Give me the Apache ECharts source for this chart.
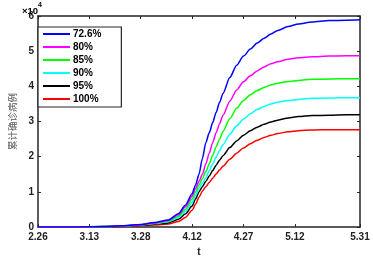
<!DOCTYPE html>
<html><head><meta charset="utf-8">
<script src="https://cdn.jsdelivr.net/npm/echarts@6/dist/echarts.min.js"></script>
<style>html,body{margin:0;padding:0;background:#fff}#c{width:373px;height:262px}</style>
</head><body><div id="c"></div>
<script>
const days = [0, 10, 20, 25, 30, 34, 38, 41, 43, 45, 46, 47, 48, 49, 50, 51, 52, 53, 54, 56, 58, 60, 62, 64, 66, 68, 70, 73, 76, 80, 85, 90, 94];
const seriesNames = ['72.6%', '80%', '85%', '90%', '95%', '100%'];
const s726 = [0, 0.005, 0.02, 0.04, 0.075, 0.13, 0.2, 0.38, 0.62, 0.95, 1.2, 1.5, 1.95, 2.4, 2.68, 2.97, 3.26, 3.54, 3.8, 4.25, 4.6, 4.86, 5.06, 5.23, 5.37, 5.49, 5.59, 5.70, 5.77, 5.83, 5.87, 5.88, 5.89];
const s80 = [0, 0.005, 0.02, 0.035, 0.07, 0.12, 0.19, 0.35, 0.57, 0.88, 1.1, 1.3, 1.5, 1.8, 2.1, 2.4, 2.68, 2.94, 3.18, 3.58, 3.9, 4.13, 4.3, 4.44, 4.55, 4.64, 4.7, 4.77, 4.81, 4.84, 4.86, 4.87, 4.87];
const s85 = [0, 0.004, 0.018, 0.033, 0.065, 0.11, 0.17, 0.31, 0.5, 0.8, 1.0, 1.2, 1.38, 1.58, 1.8, 2.04, 2.28, 2.5, 2.72, 3.08, 3.38, 3.6, 3.76, 3.88, 3.97, 4.04, 4.09, 4.14, 4.17, 4.2, 4.21, 4.22, 4.22];
const s90 = [0, 0.004, 0.016, 0.03, 0.06, 0.1, 0.15, 0.27, 0.44, 0.7, 0.9, 1.1, 1.25, 1.4, 1.6, 1.8, 1.99, 2.17, 2.34, 2.64, 2.88, 3.07, 3.22, 3.34, 3.43, 3.5, 3.55, 3.6, 3.63, 3.66, 3.67, 3.68, 3.68];
const s95 = [0, 0.003, 0.014, 0.025, 0.05, 0.08, 0.12, 0.22, 0.37, 0.6, 0.8, 1.0, 1.15, 1.3, 1.45, 1.61, 1.76, 1.9, 2.03, 2.26, 2.45, 2.61, 2.74, 2.84, 2.92, 2.99, 3.04, 3.1, 3.14, 3.17, 3.18, 3.19, 3.19];
const s100 = [0, 0.003, 0.01, 0.02, 0.04, 0.06, 0.09, 0.16, 0.27, 0.48, 0.65, 0.85, 1.02, 1.15, 1.27, 1.39, 1.51, 1.62, 1.73, 1.93, 2.1, 2.25, 2.37, 2.47, 2.55, 2.61, 2.66, 2.71, 2.74, 2.76, 2.77, 2.77, 2.77];
const xTickDays = [0, 15, 30, 45, 60, 75, 94];
const xTickLabels = ['2.26', '3.13', '3.28', '4.12', '4.27', '5.12', '5.31'];
const yTicks = [0, 1, 2, 3, 4, 5, 6];
const colors = ['#0000ff', '#ff00ff', '#00ff00', '#00ffff', '#000000', '#ff0000'];
const allVals = [s726, s80, s85, s90, s95, s100];

const axisColor = '#262626';
const lblFont = {fontFamily: 'Liberation Sans', fontSize: 10, fontWeight: 'bold', color: '#222'};
const chart = echarts.init(document.getElementById('c'), null, {renderer: 'canvas'});
const baseX = {
  type: 'value', min: 0, max: 94,
  axisLine: {show: true, onZero: false, lineStyle: {color: axisColor, width: 1.5}},
  splitLine: {show: false}
};
const baseY = {
  type: 'value', min: 0, max: 6, interval: 1,
  axisLine: {show: true, onZero: false, lineStyle: {color: axisColor, width: 1.5}},
  splitLine: {show: false}
};
chart.setOption({
  animation: false,
  grid: {left: 22, right: 13, top: 16, bottom: 31},
  legend: {
    left: 38, top: 27, orient: 'vertical',
    data: seriesNames,
    icon: 'rect', itemWidth: 27, itemHeight: 2, itemGap: 3,
    padding: [2, 20, 3, 5],
    borderColor: axisColor, borderWidth: 1.2, backgroundColor: '#fff',
    textStyle: {fontFamily: 'Liberation Sans', fontSize: 10, fontWeight: 'bold', color: '#000', lineHeight: 10, padding: [0, 0, 0, -2]}
  },
  xAxis: [
    Object.assign({}, baseX, {
      position: 'bottom',
      name: 't', nameLocation: 'middle', nameGap: 19,
      nameTextStyle: {fontFamily: 'Liberation Sans', fontSize: 10, fontWeight: 'bold', color: '#222'},
      axisTick: {show: true, inside: true, length: 3, customValues: xTickDays, lineStyle: {color: axisColor}},
      axisLabel: Object.assign({show: true, margin: 5, customValues: xTickDays,
        formatter: v => xTickLabels[xTickDays.indexOf(v)]}, lblFont)
    }),
    Object.assign({}, baseX, {
      position: 'top',
      axisTick: {show: true, inside: true, length: 3, customValues: xTickDays, lineStyle: {color: axisColor}},
      axisLabel: {show: false}
    })
  ],
  yAxis: [
    Object.assign({}, baseY, {
      position: 'left',
      name: '累计确诊病例', nameLocation: 'middle', nameGap: 10, nameRotate: 90,
      nameTextStyle: {fontFamily: 'Noto Sans CJK SC', fontSize: 9.5, color: '#555'},
      axisTick: {show: true, inside: true, length: 3, lineStyle: {color: axisColor}},
      axisLabel: Object.assign({show: true, margin: 4, formatter: v => yTicks.includes(v) ? String(v) : ''}, lblFont)
    }),
    Object.assign({}, baseY, {
      position: 'right',
      axisTick: {show: true, inside: true, length: 3, lineStyle: {color: axisColor}},
      axisLabel: {show: false}
    })
  ],
  graphic: [{
    type: 'text', left: 22, top: 2,
    style: {
      text: '{a|×10}{b|4}',
      rich: {
        a: {fontFamily: 'Liberation Sans', fontSize: 9.5, fontWeight: 'bold', color: '#222', verticalAlign: 'bottom', padding: [4, 0, 0, 0]},
        b: {fontFamily: 'Liberation Sans', fontSize: 7, fontWeight: 'bold', color: '#222', verticalAlign: 'top'}
      }
    }
  }],
  series: seriesNames.map((n, i) => ({
    name: n, type: 'line', xAxisIndex: 0, yAxisIndex: 0,
    data: days.map((d, k) => [d, allVals[i][k]]),
    showSymbol: false, symbol: 'none', smooth: 0.25, smoothMonotone: 'x',
    lineStyle: {color: colors[i], width: 1.5},
    itemStyle: {color: colors[i]},
    z: 10 - i
  }))
});
</script>
</body></html>
